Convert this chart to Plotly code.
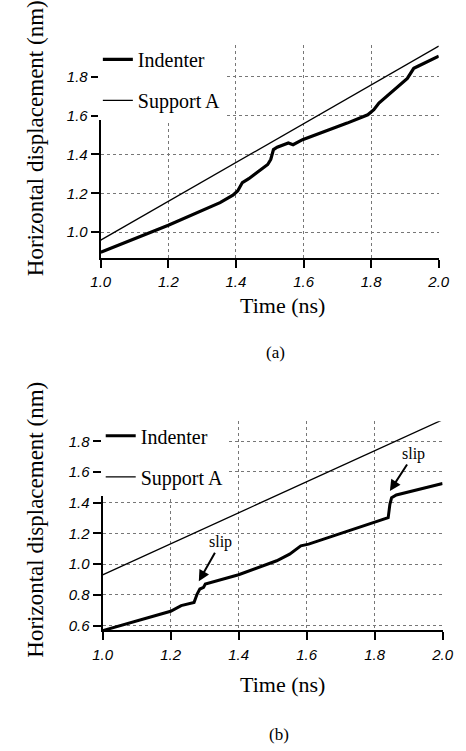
import plotly.graph_objects as go

# ---- Panel (a) data ----
a_ind_t = [1.0, 1.1, 1.2, 1.353, 1.391, 1.405, 1.419, 1.438, 1.494, 1.503, 1.511, 1.522,
           1.555, 1.569, 1.597, 1.729, 1.79, 1.808, 1.823, 1.907, 1.916, 1.926, 1.94, 2.0]
a_ind_y = [0.897, 0.965, 1.035, 1.152, 1.19, 1.212, 1.255, 1.275, 1.348, 1.374, 1.425, 1.437,
           1.459, 1.45, 1.476, 1.561, 1.604, 1.63, 1.664, 1.791, 1.817, 1.843, 1.855, 1.906]
a_sup_t = [1.0, 2.0]
a_sup_y = [0.959, 1.957]

# ---- Panel (b) data ----
b_ind_t = [1.0, 1.1, 1.2, 1.231, 1.269, 1.278, 1.286, 1.297, 1.302, 1.4, 1.512, 1.55, 1.583,
           1.606, 1.831, 1.84, 1.845, 1.85, 1.864, 1.934, 2.0]
b_ind_y = [0.567, 0.628, 0.693, 0.730, 0.751, 0.805, 0.838, 0.849, 0.870, 0.931, 1.022, 1.065,
           1.119, 1.13, 1.292, 1.303, 1.389, 1.432, 1.45, 1.486, 1.525]
b_sup_t = [1.0, 2.0]
b_sup_y = [0.93, 1.94]

x_ticks = [1.0, 1.2, 1.4, 1.6, 1.8, 2.0]
a_y_ticks = [1.0, 1.2, 1.4, 1.6, 1.8]
b_y_ticks = [0.6, 0.8, 1.0, 1.2, 1.4, 1.6, 1.8]

W, H = 466, 751
serif = "Liberation Serif"
sans = "Liberation Sans"

fig = go.Figure()
fig.add_trace(go.Scatter(x=a_ind_t, y=a_ind_y, mode="lines", name="Indenter",
                         line=dict(color="black", width=3.2), xaxis="x", yaxis="y",
                         legend="legend", legendgroup="a1"))
fig.add_trace(go.Scatter(x=a_sup_t, y=a_sup_y, mode="lines", name="Support A",
                         line=dict(color="black", width=1.3), xaxis="x", yaxis="y",
                         legend="legend", legendgroup="a2"))
fig.add_trace(go.Scatter(x=b_ind_t, y=b_ind_y, mode="lines", name="Indenter",
                         line=dict(color="black", width=3), xaxis="x2", yaxis="y2",
                         legend="legend2", legendgroup="b1"))
fig.add_trace(go.Scatter(x=b_sup_t, y=b_sup_y, mode="lines", name="Support A",
                         line=dict(color="black", width=1.3), xaxis="x2", yaxis="y2",
                         legend="legend2", legendgroup="b2"))

def px_x(p):
    return p / W

def px_y(p):
    return 1 - p / H

common_axis = dict(showline=True, linecolor="black", linewidth=2, ticks="outside",
                   ticklen=8, tickwidth=1.5, tickcolor="black",
                   showgrid=True, gridcolor="#777", gridwidth=1, griddash="dot",
                   zeroline=False,
                   tickfont=dict(family=sans, size=15, color="black", style="italic"))

fig.update_layout(
    width=W, height=H, margin=dict(l=0, r=0, t=0, b=0),
    paper_bgcolor="white", plot_bgcolor="white",
    showlegend=True,
    xaxis=dict(domain=[px_x(95), px_x(449)], range=[1.0, 2.0], tickvals=x_ticks,
               ticktext=[f"{v:.1f}" for v in x_ticks], anchor="y", ticklabelstandoff=1,
               **common_axis),
    yaxis=dict(domain=[px_y(259), px_y(45)], range=[0.867, 1.964], tickvals=a_y_ticks,
               ticktext=[f"{v:.1f}" for v in a_y_ticks], anchor="x", **common_axis),
    xaxis2=dict(domain=[px_x(97), px_x(453)], range=[1.0, 2.0], tickvals=x_ticks,
                ticktext=[f"{v:.1f}" for v in x_ticks], anchor="y2", ticklabelstandoff=2,
                **common_axis),
    yaxis2=dict(domain=[px_y(633), px_y(423)], range=[0.568, 1.93], tickvals=b_y_ticks,
                ticktext=[f"{v:.1f}" for v in b_y_ticks], anchor="x2", **common_axis),
    legend=dict(x=px_x(92), y=px_y(40), xanchor="left", yanchor="top",
                bgcolor="white", borderwidth=0, tracegroupgap=12,
                font=dict(family=serif, size=20, color="black")),
    legend2=dict(x=px_x(95), y=px_y(418), xanchor="left", yanchor="top",
                 bgcolor="white", borderwidth=0, tracegroupgap=12,
                 font=dict(family=serif, size=20, color="black")),
)

title_font = dict(family=serif, size=22, color="black")
ytitle_font = dict(family=serif, size=23, color="black")
C = dict(xref="paper", yref="paper", showarrow=False, xanchor="center", yanchor="middle")
ann = [
    dict(text="Horizontal displacement (nm)", textangle=-90, x=px_x(27), y=px_y(139),
         font=ytitle_font, **C),
    dict(text="Time (ns)", x=px_x(285), y=px_y(307), font=title_font, **C),
    dict(text="(a)", x=px_x(278), y=px_y(354),
         font=dict(family=serif, size=17, color="black"), **C),
    dict(text="Horizontal displacement (nm)", textangle=-90, x=px_x(27), y=px_y(522),
         font=ytitle_font, **C),
    dict(text="Time (ns)", x=px_x(285), y=px_y(687), font=title_font, **C),
    dict(text="(b)", x=px_x(282), y=px_y(737),
         font=dict(family=serif, size=17, color="black"), **C),
    dict(text="slip", x=1.283, y=0.888, xref="x2", yref="y2", ax=22, ay=-39,
         showarrow=True, arrowhead=2, arrowsize=1.1, arrowwidth=2, arrowcolor="black",
         font=dict(family=serif, size=16, color="black")),
    dict(text="slip", x=1.845, y=1.476, xref="x2", yref="y2", ax=24, ay=-37,
         showarrow=True, arrowhead=2, arrowsize=1.1, arrowwidth=2, arrowcolor="black",
         font=dict(family=serif, size=16, color="black")),
]
fig.update_layout(annotations=ann)

fig.write_html("out.html")
